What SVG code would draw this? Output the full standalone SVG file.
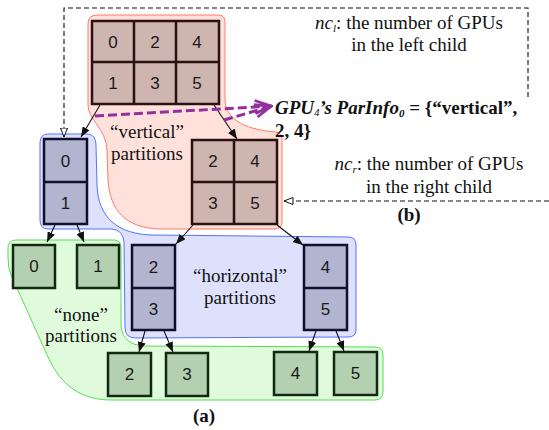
<svg xmlns="http://www.w3.org/2000/svg" width="549" height="430" viewBox="0 0 549 430">
<style>
.rc{fill:#cfb5b0;stroke:#2b1210;stroke-width:2.5}
.rl{stroke:#2b1210;stroke-width:2.5}
.bc{fill:#b2b5cf;stroke:#10102e;stroke-width:2.5}
.bl{stroke:#10102e;stroke-width:2.5}
.gc{fill:#b3d1b1;stroke:#102a10;stroke-width:2.5}
.num{font-family:"Liberation Sans",Arial,sans-serif;font-size:17px;fill:#1a1a1a;text-anchor:middle}
.lab{font-family:"Liberation Serif","Times New Roman",Tinos,"DejaVu Serif",serif;font-size:19px;fill:#111;text-anchor:middle}
.cap{font-family:"Liberation Serif","Times New Roman",Tinos,"DejaVu Serif",serif;font-size:19px;font-weight:bold;fill:#111;text-anchor:middle}
.gpu{font-family:"Liberation Serif","Times New Roman",Tinos,"DejaVu Serif",serif;font-size:19px;font-weight:bold;fill:#111}
.arr{stroke:#111;stroke-width:1.1;fill:none;marker-end:url(#ah)}
.dash{stroke:#111;stroke-width:1.1;fill:none;stroke-dasharray:5 3;marker-end:url(#oh)}
.pur{stroke:#93309e;stroke-width:3;fill:none;stroke-dasharray:9 4;marker-end:url(#ph)}
</style>
<defs>
<marker id="ah" viewBox="0 0 10 8" refX="10" refY="4" markerWidth="10" markerHeight="8" markerUnits="userSpaceOnUse" orient="auto"><path d="M0,0 L10,4 L0,8 Z" fill="#111"/></marker>
<marker id="oh" viewBox="0 0 10 8" refX="9.5" refY="4" markerWidth="10" markerHeight="8" markerUnits="userSpaceOnUse" orient="auto"><path d="M0.5,0.5 L9.5,4 L0.5,7.5 Z" fill="#fff" stroke="#111" stroke-width="1"/></marker>
<marker id="ph" viewBox="0 0 20 16" refX="19" refY="8" markerWidth="20" markerHeight="16" markerUnits="userSpaceOnUse" orient="auto"><path d="M2,1.5 L18,8 L2,14.5" fill="none" stroke="#93309e" stroke-width="2.8"/></marker>
</defs>

<g id="region-horizontal">
<path d="M48,134 L88,134 Q96,135 96,145 L97,185 C98,218 118,234 152,235 L348,237 Q356,237 356,245 L356,330 Q356,337 348,337 L136,338 Q125,338 125,328 L124,242 Q123,230 112,229 L48,229 Q40,229 40,220 L40,143 Q40,134 48,134 Z" fill="#dde1fc" stroke="#5572ff" stroke-width="1"/>
</g>
<g id="region-none">
<path d="M16,240 L114,240 Q121,240 121,248 L121,325 Q122,345 145,346 L375,347 Q383,347 383,355 L383,392 Q383,400 375,400 L112,400 C82,400 62,387 48,357 L11,275 Q8,268 8,258 L8,248 Q8,240 16,240 Z" fill="#e0fbdc" stroke="#55dd55" stroke-width="1"/>
</g>
<g id="region-vertical">
<path d="M97,15 L218,15 Q225,15 225,22 L225,100 C226,122 250,130 276,132 Q282,133 282,140 L282,222 Q282,229 274,229 L160,229 C125,228 110,210 108,180 L107,150 C106,128 88,120 88,105 L88,24 Q88,15 97,15 Z" fill="#ffe1dc" stroke="#ff7a66" stroke-width="1"/>
</g>

<g id="labels">
<text class="lab" x="147" y="138">“vertical”</text>
<text class="lab" x="147" y="160">partitions</text>
<text class="lab" x="240" y="282">“horizontal”</text>
<text class="lab" x="240" y="304">partitions</text>
<text class="lab" x="81" y="321">“none”</text>
<text class="lab" x="81" y="342">partitions</text>
<text class="cap" x="204" y="422">(a)</text>
<text class="cap" x="409" y="221">(b)</text>
<text class="lab" x="409" y="29"><tspan font-style="italic">nc</tspan><tspan font-style="italic" font-size="11" dy="3">l</tspan><tspan dy="-3">: the number of GPUs</tspan></text>
<text class="lab" x="409" y="51">in the left child</text>
<text class="lab" x="429" y="170"><tspan font-style="italic">nc</tspan><tspan font-style="italic" font-size="11" dy="3">r</tspan><tspan dy="-3">: the number of GPUs</tspan></text>
<text class="lab" x="429" y="193">in the right child</text>
<text class="gpu" x="275" y="114"><tspan font-style="italic">GPU</tspan><tspan font-style="italic" font-weight="normal" font-size="11" dy="2">4</tspan><tspan font-style="italic" dy="-2">’s ParInfo</tspan><tspan font-style="italic" font-size="11" dy="3">0</tspan><tspan dy="-3"> = {“vertical”,</tspan></text>
<text class="gpu" x="275" y="137">2, 4}</text>
</g>

<g id="connectors">
<path class="arr" d="M100,105 L81,137"/>
<path class="arr" d="M214,105 L237,139"/>
<path class="arr" d="M55,225 L47,242"/>
<path class="arr" d="M77,225 L84,242"/>
<path class="arr" d="M193,225 L176,244"/>
<path class="arr" d="M277,225 L303,245"/>
<path class="arr" d="M145,331 L139,352"/>
<path class="arr" d="M164,331 L173,352"/>
<path class="arr" d="M316,331 L309,351"/>
<path class="arr" d="M336,331 L344,351"/>
<path class="dash" d="M528,97 V8 H64 V137"/>
<path class="dash" d="M549,201 H284"/>
<path class="pur" d="M95,116 L272,106"/>
<path class="pur" d="M224,120 L272,106"/>
</g>

<g id="node-root">
<rect class="rc" x="92" y="21" width="127" height="83"/>
<path class="rl" d="M134,21 V104 M176,21 V104 M92,62 H219"/>
<text class="num" x="113" y="48">0</text><text class="num" x="155" y="48">2</text><text class="num" x="197" y="48">4</text>
<text class="num" x="113" y="89">1</text><text class="num" x="155" y="89">3</text><text class="num" x="197" y="89">5</text>
</g>
<g id="node-right">
<rect class="rc" x="192" y="140" width="85" height="84"/>
<path class="rl" d="M234,140 V224 M192,182 H277"/>
<text class="num" x="213" y="167">2</text><text class="num" x="255" y="167">4</text>
<text class="num" x="213" y="209">3</text><text class="num" x="255" y="209">5</text>
</g>
<g id="node-01">
<rect class="bc" x="44" y="139" width="43" height="85"/>
<path class="bl" d="M44,182 H87"/>
<text class="num" x="65.5" y="167">0</text><text class="num" x="65.5" y="209">1</text>
</g>
<g id="node-23">
<rect class="bc" x="132" y="245" width="43" height="85"/>
<path class="bl" d="M132,288 H175"/>
<text class="num" x="153.5" y="273">2</text><text class="num" x="153.5" y="315">3</text>
</g>
<g id="node-45">
<rect class="bc" x="304" y="245" width="43" height="85"/>
<path class="bl" d="M304,288 H347"/>
<text class="num" x="325.5" y="273">4</text><text class="num" x="325.5" y="315">5</text>
</g>
<g id="leaf-0"><rect class="gc" x="13" y="245" width="42" height="43"/><text class="num" x="34" y="272">0</text></g>
<g id="leaf-1"><rect class="gc" x="77" y="245" width="42" height="43"/><text class="num" x="98" y="272">1</text></g>
<g id="leaf-2"><rect class="gc" x="108" y="353" width="43" height="43"/><text class="num" x="129.5" y="380">2</text></g>
<g id="leaf-3"><rect class="gc" x="166" y="353" width="42" height="43"/><text class="num" x="187" y="380">3</text></g>
<g id="leaf-4"><rect class="gc" x="274" y="352" width="43" height="43"/><text class="num" x="295.5" y="379">4</text></g>
<g id="leaf-5"><rect class="gc" x="334" y="352" width="43" height="43"/><text class="num" x="355.5" y="379">5</text></g>
</svg>
